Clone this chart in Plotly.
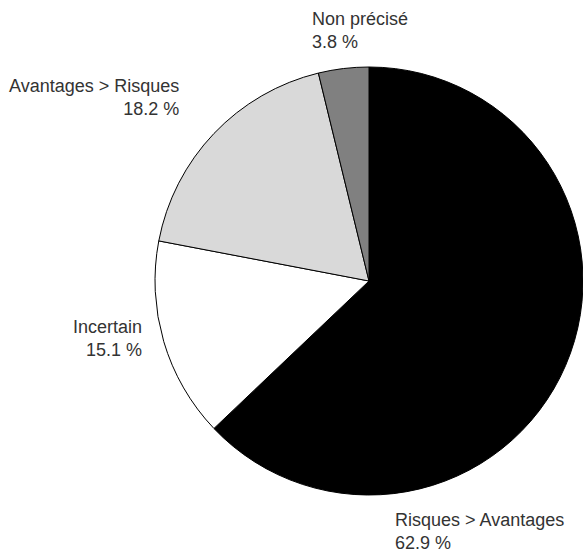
import plotly.graph_objects as go

labels = ["Risques > Avantages", "Incertain", "Avantages > Risques", "Non précisé"]
values = [62.9, 15.1, 18.2, 3.8]
colors = ["#000000", "#ffffff", "#d9d9d9", "#808080"]

W, H = 583, 553
cx, cy, r = 370, 281, 215

# label anchor points in pixels (x, y-center, horizontal anchor)
label_pos = [
    (393, 531, "left"),
    (144, 338, "right"),
    (181, 97, "right"),
    (310, 30, "left"),
]

fig = go.Figure(go.Pie(
    labels=labels,
    values=values,
    sort=False,
    direction="clockwise",
    rotation=0,
    marker=dict(colors=colors, line=dict(color="#000000", width=1)),
    textinfo="none",
    hoverinfo="label+value",
    showlegend=False,
    domain=dict(x=[(cx - r) / W, min(1.0, (cx + r) / W)],
                y=[(H - cy - r) / H, (H - cy + r) / H]),
))

font = dict(family="Liberation Sans, Arial, sans-serif", size=18, color="#333333")
for lab, val, (px, py, anchor) in zip(labels, values, label_pos):
    fig.add_annotation(
        x=px / W, y=1 - py / H, xref="paper", yref="paper",
        text=f"{lab}<br>{val:.1f} %",
        showarrow=False, xanchor=anchor, yanchor="middle", align=anchor,
        font=font,
    )

fig.update_layout(
    width=W, height=H,
    margin=dict(l=0, r=0, t=0, b=0),
    paper_bgcolor="white",
    plot_bgcolor="white",
)

fig.write_html("out.html")
